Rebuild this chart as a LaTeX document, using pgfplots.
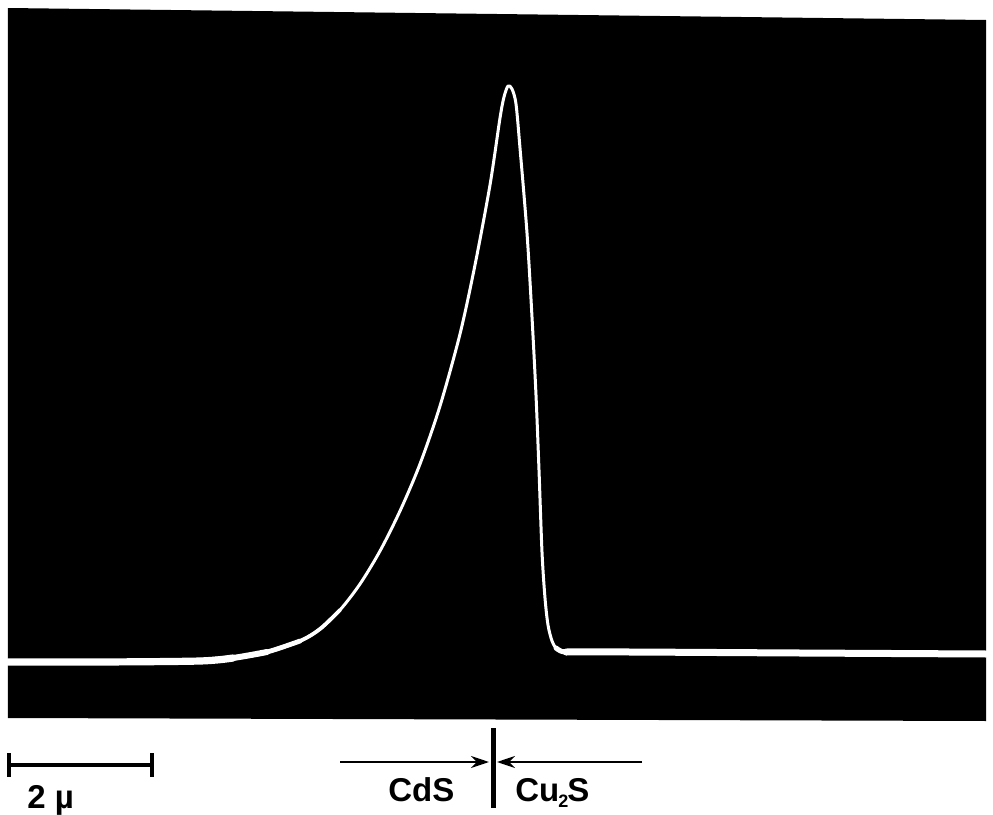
\documentclass[border=0pt]{standalone}
\usepackage{pgfplots}
\pgfplotsset{compat=1.18}
\usetikzlibrary{arrows.meta}
\usepackage{fontspec}
\setmainfont{Liberation Sans}
\begin{document}
\begin{tikzpicture}
\begin{axis}[
  scale only axis,
  width=489pt, height=355pt,
  xmin=8, xmax=986, ymin=8, ymax=718,
  y dir=reverse,
  hide axis, clip=false,
]
% dark screen
\addplot[fill=black, draw=none] coordinates {(8,8) (986,20) (986,721) (8,718) (8,8)};
% trace (pixel units of the photograph)
\addplot[white, line width=1.5pt, line join=round, line cap=round, smooth, tension=0.5] coordinates {
(8,662) (100,662) (200,661) (233,658) (267,652) (300,641) (320,629) (340,610)
(360,584) (380,551) (400,511) (420,464) (440,406) (460,334) (475,265)
(490,185) (500,118) (504,97) (508,86) (512,89) (516,104) (520,148)
(527,233) (532,317) (536,395) (539,470) (542,552) (545,598) (548,625) (552,641)
(556,648) (562,651.5) (572,652) (630,652) (800,653) (986,654)};
% brighter, thicker slow parts of the trace
\addplot[white, line width=3.6pt, line cap=round, smooth] coordinates {
(8,662) (100,662) (200,661) (233,658)};
\addplot[white, line width=3pt, line cap=round, smooth] coordinates {
(200,661) (233,658) (267,652)};
\addplot[white, line width=2.4pt, line cap=round, smooth] coordinates {
(233,658) (267,652) (300,641)};
\addplot[white, line width=1.9pt, line cap=round, smooth] coordinates {
(267,652) (300,641) (320,629) (340,610)};
\addplot[white, line width=2.5pt, line cap=round, smooth] coordinates {
(556,648) (562,651.5) (572,652)};
\addplot[white, line width=3.5pt, line cap=round, smooth] coordinates {
(566,652) (630,652) (800,653) (986,654)};
% annotations
\draw[black, line width=2pt] (axis cs:8,765) -- (axis cs:153,765);
\draw[black, line width=2pt] (axis cs:9,753) -- (axis cs:9,777);
\draw[black, line width=2pt] (axis cs:152,753) -- (axis cs:152,777);
\node[anchor=base west, inner sep=0pt, font=\bfseries\fontsize{16.5}{18}\selectfont] at (axis cs:27,808) {2 µ};
\draw[black, line width=2.5pt] (axis cs:493,728) -- (axis cs:493,808);
\draw[black, line width=1.2pt, -{Stealth[length=9pt,width=6pt]}] (axis cs:340,762) -- (axis cs:489,762);
\draw[black, line width=1.2pt, -{Stealth[length=9pt,width=6pt]}] (axis cs:642,762) -- (axis cs:497,762);
\node[anchor=base west, inner sep=0pt, font=\bfseries\fontsize{16.5}{18}\selectfont] at (axis cs:388,801) {CdS};
\node[anchor=base west, inner sep=0pt, font=\bfseries\fontsize{16.5}{18}\selectfont] at (axis cs:515,801) {Cu\kern-0.5pt\raisebox{-0.4ex}{\fontsize{9}{9}\selectfont 2}\kern-0.5pt S};
\path (axis cs:0,0) rectangle (axis cs:993,813);
\end{axis}
\end{tikzpicture}
\end{document}
